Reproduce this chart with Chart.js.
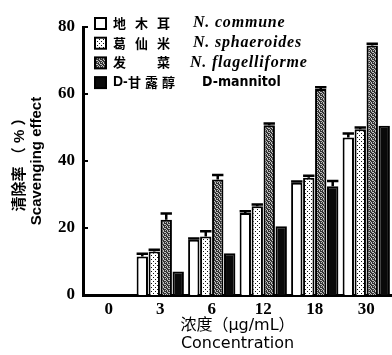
<!DOCTYPE html>
<html>
<head>
<meta charset="utf-8">
<script src="https://cdn.jsdelivr.net/npm/chart.js@4.4.1/dist/chart.umd.min.js"></script>
<style>
  html, body { margin: 0; padding: 0; background: #fff; }
  #wrap { width: 392px; height: 355px; position: relative; }
</style>
</head>
<body>
<div id="wrap"><canvas id="myChart" width="392" height="355"></canvas></div>
<script>
// concentration (ug/mL)
var categories = ['0', '3', '6', '12', '18', '30'];

// scavenging effect (%) and error bars
var communeVals   = [0, 11.5, 16.5, 24.5, 33.5, 47.0];
var communeErr    = [0, 0.8, 0.4, 0.5, 0.4, 1.2];
var sphaeroVals   = [0, 13.0, 17.5, 26.5, 35.0, 49.5];
var sphaeroErr    = [0, 0.5, 1.5, 0.5, 0.6, 0.5];
var flagelVals    = [0, 22.5, 34.5, 50.7, 61.5, 74.5];
var flagelErr     = [0, 1.8, 1.3, 0.5, 0.5, 0.5];
var mannitolVals  = [0, 7.0, 12.5, 20.5, 32.5, 50.5];
var mannitolErr   = [0, 0, 0, 0, 1.5, 0];

var legendCn = ['地木耳', '葛仙米', '发　菜', '甘露醇'];
var legendEn = ['N. commune', 'N. sphaeroides', 'N. flagelliforme', 'D-mannitol'];

var ctx = document.getElementById("myChart").getContext('2d');

function makePattern(size, bg, pixels, color) {
  var c = document.createElement('canvas');
  c.width = size; c.height = size;
  var p = c.getContext('2d');
  p.fillStyle = bg;
  p.fillRect(0, 0, size, size);
  p.fillStyle = color;
  for (var i = 0; i < pixels.length; i++) {
    p.fillRect(pixels[i][0], pixels[i][1], 1, 1);
  }
  return ctx.createPattern(c, 'repeat');
}

var dotFill = makePattern(4, '#ffffff', [[1, 1], [3, 3]], '#111');
var grayFill = makePattern(4, '#333333', [[0, 0], [2, 1], [1, 2], [3, 3], [1, 0], [3, 2]], '#c0c0c0');
var fills = ['#ffffff', dotFill, grayFill, '#0a0a0a'];
var errs = [communeErr, sphaeroErr, flagelErr, mannitolErr];

// error bars
var errorBars = {
  id: 'errorBars',
  afterDatasetsDraw: function(chart) {
    var c = chart.ctx;
    var y = chart.scales.y;
    c.save();
    c.strokeStyle = '#000';
    c.lineWidth = 2.5;
    chart.data.datasets.forEach(function(ds, di) {
      var meta = chart.getDatasetMeta(di);
      meta.data.forEach(function(bar, i) {
        var e = errs[di][i];
        if (!e) return;
        var top = y.getPixelForValue(ds.data[i] + e);
        var half = bar.width * 0.5;
        c.beginPath();
        c.moveTo(bar.x, bar.y);
        c.lineTo(bar.x, top);
        c.moveTo(bar.x - half, top);
        c.lineTo(bar.x + half, top);
        c.stroke();
      });
    });
    // small inward ticks on the y axis
    c.lineWidth = 2;
    y.ticks.forEach(function(t) {
      var py = y.getPixelForValue(t.value);
      c.beginPath();
      c.moveTo(y.right, py);
      c.lineTo(y.right + 5, py);
      c.stroke();
    });
    c.restore();
  }
};

// legend with mixed chinese / italic latin text
var legendBox = {
  id: 'legendBox',
  afterDraw: function(chart) {
    var c = chart.ctx;
    c.save();
    c.textBaseline = 'middle';
    for (var i = 0; i < legendCn.length; i++) {
      var cy = 23 + i * 19.7;
      c.fillStyle = fills[i];
      c.fillRect(95, cy - 5, 11, 11);
      c.strokeStyle = '#000';
      c.lineWidth = 2;
      c.strokeRect(95, cy - 5, 11, 11);
      c.fillStyle = '#000';
      if (i < 3) {
        c.font = 'bold 13px "Noto Sans CJK SC"';
        c.letterSpacing = '9px';
        c.fillText(legendCn[i], 113, cy);
        c.font = 'italic bold 16px "Liberation Serif"';
        c.letterSpacing = '0.8px';
        c.fillText(legendEn[i], i == 2 ? 190 : 193, cy);
      } else {
        c.font = 'bold 14px "Liberation Sans"';
        c.letterSpacing = '0px';
        c.fillText('D-', 113, cy);
        c.font = 'bold 13px "Noto Sans CJK SC"';
        c.letterSpacing = '4px';
        c.fillText(legendCn[i], 128, cy);
        c.font = 'bold 14px "DejaVu Sans Condensed", "Liberation Sans"';
        c.letterSpacing = '0px';
        c.fillText(legendEn[i], 202, cy);
      }
    }
    c.restore();
  }
};

var names = ['N. commune', 'N. sphaeroides', 'N. flagelliforme', 'D-mannitol'];
var vals = [communeVals, sphaeroVals, flagelVals, mannitolVals];
var datasets = [];
for (var k = 0; k < 4; k++) {
  datasets.push({
    label: names[k],
    data: vals[k],
    backgroundColor: fills[k],
    borderColor: '#000',
    borderWidth: 2,
    borderSkipped: 'bottom',
    categoryPercentage: 0.93,
    barPercentage: 0.95
  });
}

var myChart = new Chart(ctx, {
  type: 'bar',
  data: { labels: categories, datasets: datasets },
  options: {
    responsive: false,
    animation: false,
    layout: { padding: { top: 27, right: 0, left: 12, bottom: 2 } },
    plugins: {
      legend: { display: false },
      tooltip: { enabled: false }
    },
    scales: {
      x: {
        afterFit: function(s) { s.height = 58; },
        grid: { display: false, drawTicks: false },
        border: { color: '#000', width: 3 },
        ticks: {
          color: '#000',
          padding: 4,
          font: { family: '"Liberation Serif"', weight: 'bold', size: 17 }
        },
        title: {
          display: true,
          text: ['浓度（µg/mL）', 'Concentration'],
          color: '#000',
          padding: { top: 0, bottom: 0 },
          font: { family: '"DejaVu Sans", "Noto Sans CJK SC"', size: 16, lineHeight: 1.15 }
        }
      },
      y: {
        min: 0,
        max: 80,
        afterFit: function(s) { s.width = 71; },
        grid: { display: false, drawTicks: false },
        border: { color: '#000', width: 3 },
        ticks: {
          stepSize: 20,
          color: '#000',
          padding: 8,
          font: { family: '"Liberation Serif"', weight: 'bold', size: 17 }
        },
        title: {
          display: true,
          text: ['清除率 （ % ）', 'Scavenging effect'],
          color: '#000',
          padding: { top: 0, bottom: 2 },
          font: { family: '"Liberation Sans", "Noto Sans CJK SC"', weight: 'bold', size: 15, lineHeight: 1.1 }
        }
      }
    }
  },
  plugins: [errorBars, legendBox]
});
</script>
</body>
</html>
